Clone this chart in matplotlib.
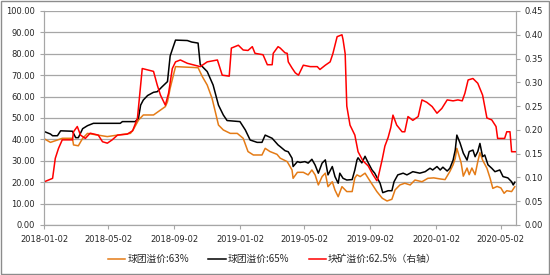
import numpy as np
import matplotlib.pyplot as plt
import matplotlib.dates as mdates
from matplotlib.patches import Rectangle

plt.rcParams['font.family'] = ['Noto Sans CJK SC', 'DejaVu Sans']

start = np.datetime64('2018-01-02')

# 球团溢价:63%  (days since 2018-01-02, value)
p63_days = [1, 12, 25, 34, 53, 55, 64, 72, 81, 100, 118, 137, 161, 166, 176, 185, 204, 213,
            226, 230, 235, 245, 287, 295, 304, 313, 319, 325, 334, 347, 360, 371, 380, 390,
            406, 412, 421, 434, 440, 453, 462, 464, 472, 483, 492, 499, 505, 511, 518, 524,
            529, 537, 542, 548, 555, 564, 574, 579, 583, 589, 598, 604, 612, 620, 630, 639,
            648, 654, 663, 672, 682, 691, 704, 715, 726, 738, 747, 756, 762, 766, 769, 777,
            781, 788, 792, 797, 803, 808, 812, 817, 825, 831, 836, 844, 851, 857, 862, 871,
            877]
p63_vals = [40.2, 38.6, 39.7, 40.5, 40.5, 37.4, 37.0, 40.5, 42.8, 42.0, 41.3, 42.0, 42.8, 44.4,
            49.0, 51.4, 51.4, 53.0, 55.3, 57.6, 63.9, 74.0, 73.5, 69.3, 65.4, 59.2, 53.0, 46.7,
            44.4, 42.8, 42.8, 40.5, 34.3, 32.7, 32.7, 35.8, 34.3, 33.0, 31.2, 29.6, 25.7, 21.8,
            24.6, 24.6, 23.4, 25.7, 23.4, 18.7, 22.6, 24.2, 17.9, 20.2, 16.3, 13.2, 17.9, 15.6,
            15.6, 22.0, 23.4, 22.6, 24.2, 21.8, 18.7, 15.6, 12.5, 11.2, 12.0, 16.4, 18.7, 19.5,
            18.7, 21.0, 20.2, 21.8, 22.0, 21.5, 21.2, 25.0, 28.1, 31.2, 35.8, 29.0, 22.8, 26.6,
            23.5, 26.6, 23.5, 29.6, 33.8, 30.3, 26.5, 21.8, 17.1, 18.0, 17.3, 14.8, 16.0, 15.6,
            17.9]

# 球团溢价:65%
p65_days = [1, 12, 16, 25, 31, 53, 59, 64, 72, 81, 92, 142, 146, 170, 176, 180, 185, 193, 204,
            211, 220, 230, 235, 239, 245, 267, 275, 287, 291, 304, 315, 325, 334, 341, 365, 375,
            384, 397, 406, 412, 425, 436, 440, 449, 455, 462, 464, 472, 477, 486, 492, 499, 505,
            511, 518, 524, 529, 537, 542, 548, 551, 557, 564, 574, 579, 583, 585, 592, 598, 604,
            611, 616, 626, 631, 641, 648, 652, 659, 669, 676, 682, 687, 700, 710, 719, 724, 732,
            738, 743, 751, 756, 762, 766, 769, 775, 781, 788, 792, 799, 803, 808, 812, 817, 821,
            827, 834, 840, 849, 855, 864, 871, 874, 877]
p65_vals = [43.6, 42.5, 41.7, 41.7, 44.0, 43.8, 40.8, 40.8, 45.0, 46.4, 47.5, 47.5, 48.3, 48.3,
            50.0, 56.0, 58.4, 60.5, 62.0, 62.3, 64.6, 67.0, 79.0, 82.0, 86.4, 86.2, 85.5, 85.0,
            75.0, 71.7, 65.4, 56.0, 51.4, 48.8, 48.3, 44.4, 39.7, 38.6, 38.6, 42.0, 40.5, 37.4,
            36.6, 34.7, 34.2, 31.2, 27.3, 29.6, 29.2, 29.6, 28.9, 30.7, 28.0, 24.2, 28.9, 30.4,
            23.4, 27.3, 22.6, 19.5, 24.2, 21.8, 21.0, 21.2, 25.7, 30.4, 31.4, 29.0, 32.1, 29.0,
            25.7, 24.2, 19.5, 15.1, 16.0, 16.0, 20.2, 23.4, 24.2, 23.4, 24.2, 24.9, 24.2, 24.9,
            26.5, 25.7, 27.3, 25.7, 27.0, 25.2, 26.5, 30.3, 35.0, 42.0, 38.3, 33.6, 30.3, 34.3,
            35.0, 31.9, 34.3, 38.1, 31.9, 32.7, 28.1, 26.5, 24.9, 25.7, 22.6, 22.0, 20.2, 18.7,
            20.0]

# 块矿溢价:62.5% (右轴)
lump_days = [1, 16, 21, 27, 34, 53, 55, 62, 68, 77, 86, 101, 109, 118, 127, 137, 155, 165, 174,
             183, 204, 211, 217, 226, 232, 239, 245, 254, 267, 291, 304, 323, 332, 345, 349, 362,
             371, 380, 388, 393, 408, 416, 425, 427, 436, 440, 449, 453, 455, 462, 468, 474, 483,
             496, 509, 514, 524, 533, 538, 546, 555, 557, 561, 564, 570, 579, 585, 594, 604, 612,
             620, 622, 630, 635, 641, 646, 650, 657, 667, 672, 678, 687, 697, 704, 713, 723, 732,
             741, 751, 762, 771, 779, 784, 790, 799, 808, 817, 825, 834, 842, 845, 858, 862, 868,
             871, 879]
lump_vals = [0.091, 0.098, 0.140, 0.161, 0.179, 0.179, 0.196, 0.207, 0.189, 0.182, 0.193, 0.189,
             0.175, 0.172, 0.179, 0.189, 0.191, 0.198, 0.224, 0.329, 0.323, 0.294, 0.273, 0.252,
             0.277, 0.329, 0.343, 0.347, 0.340, 0.333, 0.343, 0.347, 0.315, 0.313, 0.372, 0.378,
             0.368, 0.367, 0.375, 0.361, 0.358, 0.337, 0.337, 0.361, 0.375, 0.372, 0.362, 0.361,
             0.343, 0.330, 0.320, 0.315, 0.336, 0.333, 0.333, 0.327, 0.336, 0.343, 0.360, 0.396,
             0.400, 0.390, 0.360, 0.250, 0.210, 0.189, 0.154, 0.135, 0.124, 0.107, 0.093, 0.098,
             0.138, 0.166, 0.184, 0.205, 0.231, 0.210, 0.196, 0.196, 0.228, 0.220, 0.228, 0.263,
             0.258, 0.249, 0.235, 0.245, 0.263, 0.261, 0.263, 0.261, 0.277, 0.305, 0.308, 0.298,
             0.273, 0.225, 0.221, 0.207, 0.182, 0.182, 0.196, 0.196, 0.154, 0.154]

tick_dates = ['2018-01-02', '2018-05-02', '2018-09-02', '2019-01-02',
              '2019-05-02', '2019-09-02', '2020-01-02', '2020-05-02']

labels = ['球团溢价:63%', '球团溢价:65%', '块矿溢价:62.5%（右轴）']
colors = ['#E47B16', '#000000', '#FF0000']


def to_dates(days):
    return start + np.array(days, dtype='timedelta64[D]')


fig = plt.figure(figsize=(5.5, 2.75), dpi=100)
ax = fig.add_axes([0.08, 0.182, 0.858, 0.778])
ax2 = ax.twinx()

l1, = ax.plot(to_dates(p63_days), p63_vals, color=colors[0], lw=1.1)
l2, = ax.plot(to_dates(p65_days), p65_vals, color=colors[1], lw=1.1)
l3, = ax2.plot(to_dates(lump_days), lump_vals, color=colors[2], lw=1.1)

# axes ranges
ax.set_ylim(0, 100)
ax.set_yticks(np.arange(0, 101, 10))
ax.yaxis.set_major_formatter(plt.FormatStrFormatter('%.2f'))
ax2.set_ylim(0, 0.45)
ax2.set_yticks(np.arange(0, 0.451, 0.05))
ax2.yaxis.set_major_formatter(plt.FormatStrFormatter('%.2f'))

ax.set_xlim(start, start + np.timedelta64(879, 'D'))
ax.set_xticks([np.datetime64(d) for d in tick_dates])
ax.xaxis.set_major_formatter(mdates.DateFormatter('%Y-%m-%d'))

ax.grid(axis='y', color='#A6A6A6', lw=0.9)
ax.set_axisbelow(True)

for a in (ax, ax2):
    for s in a.spines.values():
        s.set_color('#A6A6A6')
    a.spines['top'].set_visible(False)
    a.tick_params(labelsize=6, colors='#A6A6A6', labelcolor='#262626', length=3, width=0.8)
    for t in a.get_xticklabels() + a.get_yticklabels():
        t.set_family('DejaVu Sans')
ax.tick_params(axis='x', pad=4)

fig.legend([l1, l2, l3], labels, loc='center', bbox_to_anchor=(0.495, 0.058), ncol=3,
           frameon=False, fontsize=7, handlelength=1.8, handletextpad=0.2, columnspacing=2.0,
           labelcolor='#262626')

# outer border
fig.patches.append(Rectangle((0.002, 0.004), 0.996, 0.992, transform=fig.transFigure,
                             fill=False, edgecolor='#8C8C8C', lw=1))

fig.savefig('out.png', dpi=100)
